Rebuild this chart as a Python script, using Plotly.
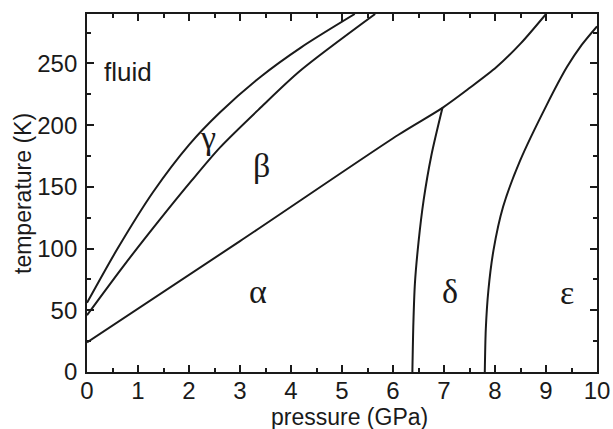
import plotly.graph_objects as go

# Phase boundaries (pressure GPa, temperature K)
fluid_gamma_p = [0.0, 0.6, 1.3, 2.0, 2.6, 3.4, 4.2, 5.25]
fluid_gamma_T = [56, 100, 146, 184, 210, 239, 263, 290]

gamma_beta_p = [0.0, 0.7, 1.4, 2.05, 2.61, 3.4, 4.18, 5.65]
gamma_beta_T = [46, 85, 122, 155, 182, 214, 244, 290]

alpha_beta_p = [0.0, 3.0, 6.1, 6.97, 7.5, 8.03, 8.5, 9.0]
alpha_beta_T = [24, 106, 192, 214, 230, 247, 266, 290]

alpha_delta_p = [6.38, 6.40, 6.43, 6.50, 6.60, 6.75, 6.97]
alpha_delta_T = [0, 40, 72, 105, 139, 175, 214]

delta_eps_p = [7.80, 7.82, 7.87, 7.97, 8.16, 8.49, 9.01, 9.41, 9.7, 10.0]
delta_eps_T = [0, 35, 66, 98.5, 134, 171, 216, 247, 265, 280]

phase_labels = ["fluid", "γ", "β", "α", "δ", "ε"]
label_p = [0.80, 2.38, 3.42, 3.36, 7.12, 9.41]
label_T = [243, 190, 167, 65, 65, 64]

x_ticks = list(range(0, 11))
y_ticks = [0, 50, 100, 150, 200, 250]

fig = go.Figure()
line_style = dict(color="#1a1a1a", width=2)
for px, py in [(fluid_gamma_p, fluid_gamma_T), (gamma_beta_p, gamma_beta_T),
               (alpha_beta_p, alpha_beta_T), (alpha_delta_p, alpha_delta_T),
               (delta_eps_p, delta_eps_T)]:
    fig.add_trace(go.Scatter(x=px, y=py, mode="lines", line=dict(**line_style, shape="spline", smoothing=0.8),
                             showlegend=False, hoverinfo="skip"))

for txt, xp, yp in zip(phase_labels, label_p, label_T):
    if txt == "fluid":
        font = dict(family="Liberation Sans, Arial, sans-serif", size=26, color="#1a1a1a")
    else:
        font = dict(family="Liberation Serif, Times New Roman, serif", size=34, color="#1a1a1a")
    fig.add_annotation(x=xp, y=yp, text=txt, showarrow=False, font=font,
                       xanchor="center", yanchor="middle")

title_font = dict(family="Liberation Sans, Arial, sans-serif", size=23, color="#1a1a1a")
fig.add_annotation(xref="paper", yref="paper", x=0.514, y=-0.126, text="pressure (GPa)",
                   showarrow=False, font=title_font, xanchor="center", yanchor="middle")
fig.add_annotation(xref="paper", yref="paper", x=-0.1255, y=0.5, text="temperature (K)",
                   showarrow=False, font=title_font, textangle=-90, xanchor="center", yanchor="middle")

axis_common = dict(
    showgrid=False, zeroline=False, showline=True, linecolor="#1a1a1a", linewidth=1.8,
    mirror="ticks", ticks="inside", ticklen=7, tickwidth=1.5, tickcolor="#1a1a1a",
    automargin=False,
    tickfont=dict(family="Liberation Sans, Arial, sans-serif", size=24, color="#1a1a1a"),
)

fig.update_xaxes(range=[0, 10], tickvals=x_ticks, ticktext=[str(v) for v in x_ticks],
                 minor=dict(dtick=0.5, ticks="inside", ticklen=4, tickwidth=1.5, tickcolor="#1a1a1a"),
                 ticklabelstandoff=-4, **axis_common)
fig.update_yaxes(range=[0, 290], tickvals=y_ticks, ticktext=[str(v) for v in y_ticks],
                 minor=dict(dtick=25, ticks="inside", ticklen=4, tickwidth=1.5, tickcolor="#1a1a1a"),
                 ticklabelstandoff=3, **axis_common)

fig.update_layout(width=613, height=429, margin=dict(l=87, r=16, t=14, b=57),
                  plot_bgcolor="white", paper_bgcolor="white")

fig.write_html("out.html")
